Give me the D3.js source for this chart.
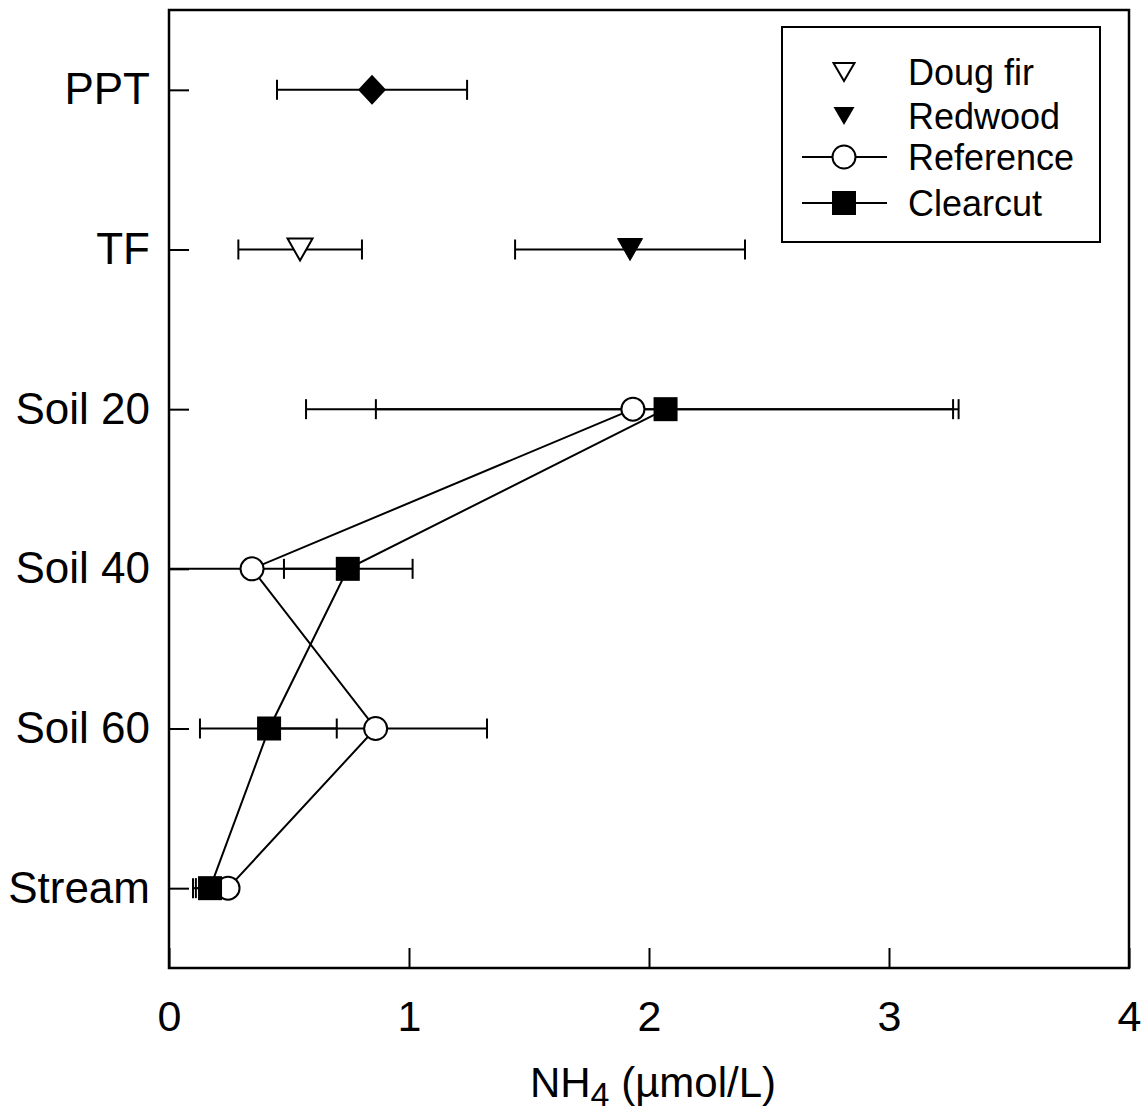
<!DOCTYPE html>
<html><head><meta charset="utf-8">
<script src="https://cdn.jsdelivr.net/npm/d3@7/dist/d3.min.js"></script>
<style>
body{margin:0;background:#fff;}
text{font-family:"Liberation Sans",Arial,Helvetica,sans-serif;fill:#000;}
</style></head>
<body><svg id="chart" width="1148" height="1114"></svg>
<script>
// ---------- data ----------
const categories = ["PPT","TF","Soil 20","Soil 40","Soil 60","Stream"];
const xTicks = [0,1,2,3,4];
const xLabel = "NH";
const xLabelSub = "4";
const xLabelRest = " (µmol/L)";

// single points (PPT and TF)
const pptValue = {cat:"PPT", x:0.846, lo:0.45, hi:1.242};
const dougFir = {cat:"TF", x:0.546, lo:0.289, hi:0.804};
const redwood = {cat:"TF", x:1.921, lo:1.442, hi:2.40};

// profile series
const profileCats = ["Soil 20","Soil 40","Soil 60","Stream"];
const referenceX  = [1.933, 0.346, 0.861, 0.246];
const referenceLo = [0.571, -0.03, 0.40, 0.112];
const referenceHi = [3.290, 0.72, 1.325, 0.225];
const clearcutX   = [2.069, 0.745, 0.417, 0.171];
const clearcutLo  = [0.862, 0.479, 0.129, 0.100];
const clearcutHi  = [3.267, 1.015, 0.699, 0.215];

const legendLabels = ["Doug fir","Redwood","Reference","Clearcut"];

// ---------- layout ----------
const svg = d3.select("#chart");
const L = 169, R = 1129, T = 10, B = 968;
const x = d3.scaleLinear().domain([0,4]).range([L,R]);
const y = d3.scalePoint().domain(categories).range([T,B]).padding(0.5);

svg.append("clipPath").attr("id","plotclip")
  .append("rect").attr("x",L).attr("y",T).attr("width",R-L).attr("height",B-T);

// axes (ticks inward)
const xAxis = svg.append("g").attr("transform",`translate(0,${B})`)
  .call(d3.axisBottom(x).tickValues(xTicks).tickFormat(d3.format("d")).tickSize(-20).tickPadding(32));
const yAxis = svg.append("g").attr("transform",`translate(${L},0)`)
  .call(d3.axisLeft(y).tickSize(-20).tickPadding(19));
[xAxis,yAxis].forEach(g=>{
  g.select(".domain").remove();
  g.selectAll(".tick line").attr("stroke","#000").attr("stroke-width",2);
  g.selectAll(".tick text").attr("font-family","'Liberation Sans',Arial,sans-serif").attr("fill","#000");
});
xAxis.selectAll(".tick text").attr("font-size",43);
yAxis.selectAll(".tick text").attr("font-size",44);

// frame
svg.append("rect").attr("x",L).attr("y",T).attr("width",R-L).attr("height",B-T)
  .attr("fill","none").attr("stroke","#000").attr("stroke-width",2.5);

// axis title
const title = svg.append("text").attr("x",(L+R)/2 + 4).attr("y",1097)
  .attr("text-anchor","middle").attr("font-size",42);
title.append("tspan").text(xLabel);
title.append("tspan").attr("font-size",34).attr("dy",9).text(xLabelSub);
title.append("tspan").attr("dy",-9).text(xLabelRest);

const plot = svg.append("g").attr("clip-path","url(#plotclip)");

function errbar(g, cat, lo, hi){
  const yy = y(cat);
  g.append("line").attr("x1",x(lo)).attr("x2",x(hi)).attr("y1",yy).attr("y2",yy)
    .attr("stroke","#000").attr("stroke-width",2);
  [lo,hi].forEach(v=>{
    g.append("line").attr("x1",x(v)).attr("x2",x(v)).attr("y1",yy-10).attr("y2",yy+10)
      .attr("stroke","#000").attr("stroke-width",2);
  });
}

const refPts = profileCats.map((c,i)=>({cat:c,x:referenceX[i],lo:referenceLo[i],hi:referenceHi[i]}));
const ccPts  = profileCats.map((c,i)=>({cat:c,x:clearcutX[i],lo:clearcutLo[i],hi:clearcutHi[i]}));

const line = d3.line().x(d=>x(d.x)).y(d=>y(d.cat));
plot.append("path").datum(refPts).attr("d",line).attr("fill","none").attr("stroke","#000").attr("stroke-width",2);
plot.append("path").datum(ccPts).attr("d",line).attr("fill","none").attr("stroke","#000").attr("stroke-width",2);

[pptValue,dougFir,redwood,...refPts,...ccPts].forEach(d=>errbar(plot,d.cat,d.lo,d.hi));

// markers
function triDown(cx,cy,w,h){ return `M${cx-w/2},${cy-h/2}L${cx+w/2},${cy-h/2}L${cx},${cy+h/2}Z`; }

plot.append("path").attr("d",`M${x(pptValue.x)},${y("PPT")-15}l14,15l-14,15l-14,-15Z`).attr("fill","#000");
plot.append("path").attr("d",triDown(x(dougFir.x),y("TF"),25,22)).attr("fill","#fff").attr("stroke","#000").attr("stroke-width",2);
plot.append("path").attr("d",triDown(x(redwood.x),y("TF"),25,22)).attr("fill","#000").attr("stroke","#000").attr("stroke-width",1);

plot.selectAll(".ref").data(refPts).join("circle").attr("class","ref")
  .attr("cx",d=>x(d.x)).attr("cy",d=>y(d.cat)).attr("r",11.5)
  .attr("fill","#fff").attr("stroke","#000").attr("stroke-width",2);
plot.selectAll(".cc").data(ccPts).join("rect").attr("class","cc")
  .attr("x",d=>x(d.x)-12).attr("y",d=>y(d.cat)-12).attr("width",24).attr("height",24)
  .attr("fill","#000");

// legend
const lg = svg.append("g");
lg.append("rect").attr("x",782).attr("y",27).attr("width",318).attr("height",215)
  .attr("fill","#fff").attr("stroke","#000").attr("stroke-width",2);
const ly = [72,116,157,203];
const sx = 844;
lg.append("path").attr("d",triDown(sx,ly[0],21,18)).attr("fill","#fff").attr("stroke","#000").attr("stroke-width",2);
lg.append("path").attr("d",triDown(sx,ly[1],21,18)).attr("fill","#000");
[2,3].forEach(i=>lg.append("line").attr("x1",802).attr("x2",887).attr("y1",ly[i]).attr("y2",ly[i]).attr("stroke","#000").attr("stroke-width",2));
lg.append("circle").attr("cx",sx).attr("cy",ly[2]).attr("r",11.5).attr("fill","#fff").attr("stroke","#000").attr("stroke-width",2);
lg.append("rect").attr("x",sx-12).attr("y",ly[3]-12).attr("width",24).attr("height",24).attr("fill","#000");
lg.selectAll(".lt").data(legendLabels).join("text").attr("class","lt")
  .attr("x",908).attr("y",(d,i)=>ly[i]).attr("dy","0.36em").attr("font-size",36).text(d=>d);
</script></body></html>
